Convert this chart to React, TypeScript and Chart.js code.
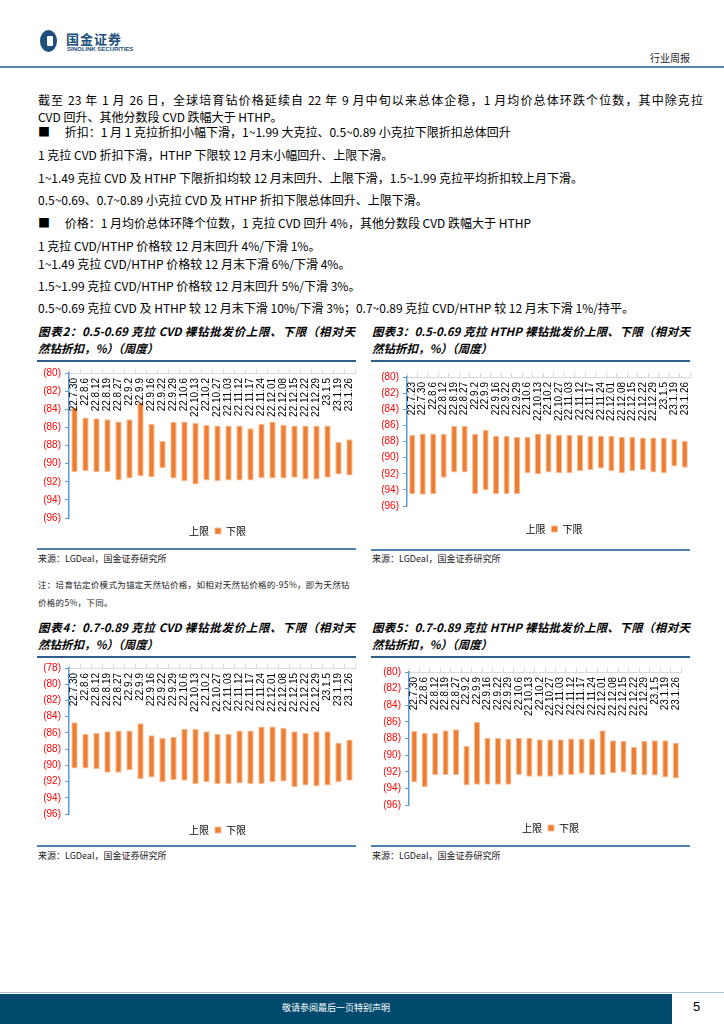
import React, { useEffect, useRef } from "react";
import { Chart, registerables } from "chart.js";

Chart.register(...registerables);

// ---------- data ----------
const datesA = [
  "22.7.30", "22.8.6", "22.8.12", "22.8.19", "22.8.27", "22.9.2", "22.9.9", "22.9.16", "22.9.22",
  "22.9.29", "22.10.6", "22.10.13", "22.10.2", "22.10.27", "22.11.03", "22.11.12", "22.11.17",
  "22.11.24", "22.12.01", "22.12.08", "22.12.15", "22.12.22", "22.12.29", "23.1.5", "23.1.19", "23.1.26",
];
const datesB = ["22.7.23", ...datesA];

// Chart 2: 0.5-0.69 ct CVD (discount vs natural, %)
const cvd0569Upper = [83.8, 84.9, 85.0, 85.1, 85.35, 85.1, 83.3, 85.6, 87.5, 85.4, 85.35, 85.5, 85.7, 85.8, 85.8, 85.8, 86.1, 85.6, 85.35, 85.7, 85.8, 85.8, 85.8, 85.8, 87.6, 87.3];
const cvd0569Lower = [90.95, 90.8, 90.95, 90.95, 91.85, 91.65, 91.4, 91.5, 90.5, 91.65, 91.95, 92.3, 91.85, 91.95, 91.85, 91.85, 91.85, 91.6, 91.65, 91.65, 91.55, 91.75, 91.75, 91.55, 91.2, 91.3];

// Chart 3: 0.5-0.69 ct HTHP
const hthp0569Upper = [87.2, 87.0, 87.0, 87.05, 86.05, 86.05, 87.05, 86.55, 87.3, 87.3, 87.4, 87.45, 87.0, 87.05, 87.15, 87.15, 87.15, 87.3, 87.3, 87.3, 87.4, 87.4, 87.5, 87.5, 87.5, 87.7, 87.9];
const hthp0569Lower = [94.5, 94.6, 94.5, 92.5, 91.85, 91.85, 94.5, 94.05, 94.5, 94.5, 94.5, 91.95, 92.05, 91.85, 91.95, 91.95, 91.7, 91.55, 91.35, 91.7, 91.95, 91.7, 91.55, 91.85, 91.95, 91.1, 91.25];

// Chart 4: 0.7-0.89 ct CVD
const cvd0789Upper = [84.7, 86.1, 86.0, 85.8, 85.7, 85.7, 84.8, 86.3, 86.6, 86.5, 85.5, 85.5, 85.8, 86.1, 86.1, 85.7, 85.7, 85.2, 85.2, 85.4, 85.8, 86.0, 85.8, 85.8, 87.2, 86.8];
const cvd0789Lower = [90.4, 90.4, 90.45, 90.9, 90.9, 90.6, 91.7, 91.5, 92.1, 91.8, 91.9, 92.3, 92.1, 92.3, 92.3, 92.25, 92.3, 92.3, 92.1, 92.0, 92.7, 92.5, 92.6, 92.5, 92.1, 91.9];

// Chart 5: 0.7-0.89 ct HTHP
const hthp0789Upper = [87.1, 87.35, 87.35, 87.0, 86.9, 88.9, 86.0, 87.9, 87.9, 88.0, 87.9, 87.9, 88.1, 88.1, 88.1, 88.0, 88.0, 88.0, 87.0, 88.2, 88.3, 89.0, 88.3, 88.2, 88.2, 88.5];
const hthp0789Lower = [93.3, 93.85, 92.4, 92.4, 92.4, 93.65, 93.55, 93.55, 93.55, 93.55, 92.4, 92.6, 92.6, 92.6, 92.45, 92.4, 92.25, 92.45, 92.4, 92.15, 92.1, 92.4, 92.45, 92.45, 92.7, 92.8];

const seriesNames = ["上限", "下限"];

// ---------- styles ----------
const ORANGE = "#ED7D31";
const ORANGE_EDGE = "#F6BD95";
const AXIS_BLUE = "#5B9BD5";
const LATIN = "'Liberation Sans', Arial, sans-serif";
const CJK = "'Noto Sans CJK SC', 'Liberation Sans', sans-serif";

const topLabelsPlugin = {
  id: "topLabels",
  afterDatasetsDraw(chart: any) {
    const { ctx, chartArea, scales } = chart;
    const xs = scales.x;
    ctx.save();
    ctx.font = `10px ${LATIN}`;
    ctx.fillStyle = "#000";
    ctx.textAlign = "right";
    ctx.textBaseline = "middle";
    (chart.data.labels as string[]).forEach((lab, i) => {
      const px = xs.getPixelForValue(i);
      ctx.save();
      ctx.translate(px, chartArea.top + 5);
      ctx.rotate(-Math.PI / 2);
      ctx.fillText(lab, 0, 0);
      ctx.restore();
    });
    ctx.restore();
  },
};

type FCProps = {
  left: number; top: number; width: number; height: number;
  labels: string[]; upper: number[]; lower: number[];
  yMin: number; yMax: number; yWidth: number;
  padTop: number; padRight: number; legendShift: number;
};

function FloatChart(p: FCProps) {
  const ref = useRef<HTMLCanvasElement>(null);
  useEffect(() => {
    if (!ref.current) return;
    const chart = new Chart(ref.current, {
      type: "bar",
      data: {
        labels: p.labels,
        datasets: [
          {
            label: seriesNames[0],
            data: p.upper,
            backgroundColor: "rgba(0,0,0,0)",
            borderWidth: 0,
            grouped: false,
            barPercentage: 0.58,
            categoryPercentage: 1,
          } as any,
          {
            label: seriesNames[1],
            data: p.upper.map((u, i) => [u, p.lower[i]]),
            backgroundColor: ORANGE,
            borderColor: ORANGE_EDGE,
            borderWidth: 1,
            borderSkipped: false,
            grouped: false,
            barPercentage: 0.58,
            categoryPercentage: 1,
          } as any,
        ],
      },
      options: {
        animation: false,
        responsive: false,
        devicePixelRatio: 1,
        layout: { padding: { top: p.padTop, right: p.padRight, left: 0, bottom: 0 } },
        plugins: {
          tooltip: { enabled: false },
          legend: {
            position: "bottom",
            fullSize: false,
            title: { display: true, text: "", font: { size: 1, lineHeight: 1 }, padding: { top: p.legendShift - 1, bottom: 0 } },
            labels: {
              boxWidth: 6,
              boxHeight: 6,
              padding: 6,
              color: "#000",
              font: { size: 10, family: CJK },
            },
          },
        },
        scales: {
          x: {
            position: "top",
            ticks: { display: false },
            grid: { drawOnChartArea: false, drawTicks: true, tickLength: 4, color: "#D9D9D9", offset: true },
            border: { color: "#D9D9D9", width: 1 },
            afterFit: (s: any) => { s.height = 4; },
          },
          y: {
            reverse: true,
            min: p.yMin,
            max: p.yMax,
            ticks: {
              stepSize: 2,
              color: "#FF0000",
              padding: 4,
              font: { size: 10, family: LATIN },
              callback: (v: any) => `(${v})`,
            },
            grid: { drawOnChartArea: false, drawTicks: true, tickLength: 4, color: AXIS_BLUE },
            border: { color: AXIS_BLUE, width: 1.5 },
            afterFit: (s: any) => { s.width = p.yWidth; },
          },
        },
      },
      plugins: [topLabelsPlugin],
    } as any);
    return () => chart.destroy();
  }, []);
  return (
    <canvas
      ref={ref}
      width={p.width}
      height={p.height}
      style={{ position: "absolute", left: p.left, top: p.top, width: p.width, height: p.height }}
    />
  );
}

const abs = (left: number, top: number, extra: React.CSSProperties = {}): React.CSSProperties => ({
  position: "absolute", left, top, ...extra,
});

function Title({ left, top, width, l1, l2 }: { left: number; top: number; width: number; l1: string; l2: string }) {
  const base: React.CSSProperties = {
    fontFamily: CJK, fontSize: 11.5, fontWeight: 700, fontStyle: "italic", color: "#000", lineHeight: "17px",
  };
  return (
    <>
      <div style={abs(left, top, { ...base, width, textAlign: "justify", textAlignLast: "justify" as any })}>{l1}</div>
      <div style={abs(left, top + 17, { ...base, whiteSpace: "pre" })}>{l2}</div>
    </>
  );
}

function Frame({ left, width, rule1, rule2, srcTop }: { left: number; width: number; rule1: number; rule2: number; srcTop: number }) {
  return (
    <>
      <div style={abs(left - 1, rule1, { width: width + 1, height: 1.5, background: "#2F5F8A" })} />
      <div style={abs(left - 1, rule2, { width: width + 1, height: 2, background: "#4F81AD" })} />
      <div style={abs(left, srcTop, { fontFamily: CJK, fontSize: 9, color: "#222", whiteSpace: "pre", lineHeight: "12px" })}>
        来源：LGDeal，国金证券研究所
      </div>
    </>
  );
}

const bodyLines: { y: number; t: string; justify?: boolean }[] = [
  { y: 100, t: "截至 23 年 1 月 26 日，全球培育钻价格延续自 22 年 9 月中旬以来总体企稳，1 月均价总体环跌个位数，其中除克拉", justify: true },
  { y: 117, t: "CVD 回升、其他分数段 CVD 跌幅大于 HTHP。" },
  { y: 132, t: "■\u3000 折扣：1 月 1 克拉折扣小幅下滑，1~1.99 大克拉、0.5~0.89 小克拉下限折扣总体回升" },
  { y: 155, t: "1 克拉 CVD 折扣下滑，HTHP 下限较 12 月末小幅回升、上限下滑。" },
  { y: 178, t: "1~1.49 克拉 CVD 及 HTHP 下限折扣均较 12 月末回升、上限下滑，1.5~1.99 克拉平均折扣较上月下滑。" },
  { y: 200, t: "0.5~0.69、0.7~0.89 小克拉 CVD 及 HTHP 折扣下限总体回升、上限下滑。" },
  { y: 223, t: "■\u3000 价格：1 月均价总体环降个位数，1 克拉 CVD 回升 4%，其他分数段 CVD 跌幅大于 HTHP" },
  { y: 246, t: "1 克拉 CVD/HTHP 价格较 12 月末回升 4%/下滑 1%。" },
  { y: 264, t: "1~1.49 克拉 CVD/HTHP 价格较 12 月末下滑 6%/下滑 4%。" },
  { y: 286, t: "1.5~1.99 克拉 CVD/HTHP 价格较 12 月末回升 5%/下滑 3%。" },
  { y: 308, t: "0.5~0.69 克拉 CVD 及 HTHP 较 12 月末下滑 10%/下滑 3%；0.7~0.89 克拉 CVD/HTHP 较 12 月末下滑 1%/持平。" },
];

export default function App() {
  return (
    <div style={{ position: "absolute", left: 0, top: 0, width: 724, height: 1024, background: "#fff", overflow: "hidden", fontFamily: CJK }}>
      {/* header */}
      <div style={abs(40, 30, { width: 17, height: 22, borderRadius: "50%", background: "#1D4F7C" })} />
      <div style={abs(47, 36, { width: 6, height: 10, borderRadius: 1, background: "#fff" })} />
      <div style={abs(66, 31, { fontSize: 13, fontWeight: 700, color: "#1D4F7C", letterSpacing: 1, lineHeight: "15px" })}>国金证券</div>
      <div style={abs(67, 46, { fontSize: 6, fontWeight: 700, color: "#1D4F7C", fontFamily: LATIN, lineHeight: "7px", whiteSpace: "pre" })}>SINOLINK SECURITIES</div>
      <div style={abs(650, 51, { fontSize: 10, color: "#222", lineHeight: "13px" })}>行业周报</div>
      <div style={abs(0, 66, { width: 724, height: 2, background: "#5582A8" })} />

      {/* body text */}
      {bodyLines.map((l, i) => (
        <div
          key={i}
          style={abs(38, l.y - 8, {
            fontSize: 12, lineHeight: "16px", color: "#000",
            ...(l.justify ? { width: 665, textAlign: "justify", textAlignLast: "justify" as any } : { whiteSpace: "pre" }),
          })}
        >
          {l.t}
        </div>
      ))}

      {/* chart 2 */}
      <Title left={38} top={323} width={317} l1="图表2：0.5-0.69 克拉 CVD 裸钻批发价上限、下限（相对天" l2="然钻折扣，%）（周度）" />
      <Frame left={38} width={318} rule1={360} rule2={548} srcTop={553} />
      <FloatChart left={30} top={362} width={330} height={184} labels={datesA} upper={cvd0569Upper} lower={cvd0569Lower}
        yMin={80} yMax={96} yWidth={39} padTop={7} padRight={5} legendShift={2} />

      {/* chart 3 */}
      <Title left={372} top={323} width={318} l1="图表3：0.5-0.69 克拉 HTHP 裸钻批发价上限、下限（相对天" l2="然钻折扣，%）（周度）" />
      <Frame left={372} width={318} rule1={360} rule2={549} srcTop={553} />
      <FloatChart left={365} top={366} width={330} height={178} labels={datesB} upper={hthp0569Upper} lower={hthp0569Lower}
        yMin={80} yMax={96} yWidth={42} padTop={7} padRight={5} legendShift={12} />

      {/* note */}
      <div style={abs(38, 578, { width: 317, fontSize: 8.5, lineHeight: "12px", color: "#222", whiteSpace: "nowrap", letterSpacing: 0.3 })}>
        注：培育钻定价模式为锚定天然钻价格，如相对天然钻价格的-95%，即为天然钻
      </div>
      <div style={abs(38, 596, { fontSize: 8.5, lineHeight: "12px", color: "#222", whiteSpace: "pre", letterSpacing: 0.3 })}>价格的5%，下同。</div>

      {/* chart 4 */}
      <Title left={38} top={619} width={317} l1="图表4：0.7-0.89 克拉 CVD 裸钻批发价上限、下限（相对天" l2="然钻折扣，%）（周度）" />
      <Frame left={38} width={318} rule1={656} rule2={845} srcTop={850} />
      <FloatChart left={30} top={657} width={330} height={188} labels={datesA} upper={cvd0789Upper} lower={cvd0789Lower}
        yMin={78} yMax={96} yWidth={39} padTop={7} padRight={5} legendShift={5} />

      {/* chart 5 */}
      <Title left={372} top={619} width={318} l1="图表5：0.7-0.89 克拉 HTHP 裸钻批发价上限、下限（相对天" l2="然钻折扣，%）（周度）" />
      <Frame left={372} width={318} rule1={656} rule2={845} srcTop={850} />
      <FloatChart left={365} top={661} width={330} height={182} labels={datesA} upper={hthp0789Upper} lower={hthp0789Lower}
        yMin={80} yMax={96} yWidth={44} padTop={7} padRight={14} legendShift={12} />

      {/* footer */}
      <div style={abs(0, 992, { width: 724, height: 1, background: "#A9C1D6" })} />
      <div style={abs(0, 994, { width: 672, height: 30, background: "#004A6D" })} />
      <div style={abs(0, 1002, { width: 672, textAlign: "center", color: "#fff", fontSize: 9, lineHeight: "12px" })}>敬请参阅最后一页特别声明</div>
      <div style={abs(693, 999, { fontSize: 13, color: "#000", fontFamily: LATIN, lineHeight: "16px" })}>5</div>
    </div>
  );
}
